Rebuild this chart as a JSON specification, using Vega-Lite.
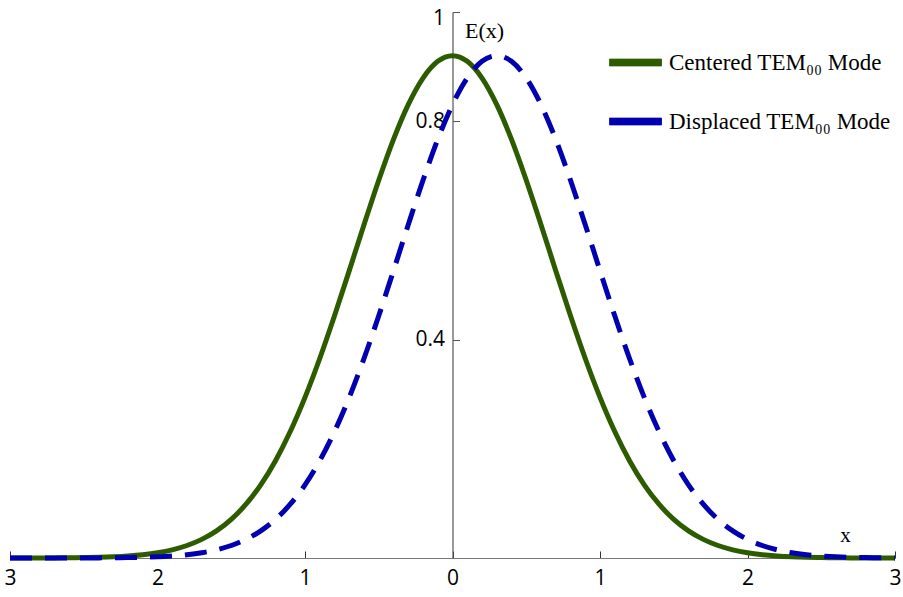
{
  "$schema": "https://vega.github.io/schema/vega-lite/v6.json",
  "width": 885,
  "height": 546,
  "autosize": "none",
  "padding": {"left": 10, "top": 12, "right": 8, "bottom": 39},
  "background": "white",
  "config": {"view": {"stroke": null}},
  "datasets": {
    "curves": [
      {"x": -3.0, "E": 0.0, "s": "Centered TEM₀₀ Mode"},
      {"x": -2.9, "E": 0.0001, "s": "Centered TEM₀₀ Mode"},
      {"x": -2.8, "E": 0.0001, "s": "Centered TEM₀₀ Mode"},
      {"x": -2.7, "E": 0.0002, "s": "Centered TEM₀₀ Mode"},
      {"x": -2.6, "E": 0.0004, "s": "Centered TEM₀₀ Mode"},
      {"x": -2.5, "E": 0.0007, "s": "Centered TEM₀₀ Mode"},
      {"x": -2.4, "E": 0.0013, "s": "Centered TEM₀₀ Mode"},
      {"x": -2.3, "E": 0.0022, "s": "Centered TEM₀₀ Mode"},
      {"x": -2.2, "E": 0.0037, "s": "Centered TEM₀₀ Mode"},
      {"x": -2.1, "E": 0.006, "s": "Centered TEM₀₀ Mode"},
      {"x": -2.0, "E": 0.0096, "s": "Centered TEM₀₀ Mode"},
      {"x": -1.9, "E": 0.015, "s": "Centered TEM₀₀ Mode"},
      {"x": -1.8, "E": 0.0229, "s": "Centered TEM₀₀ Mode"},
      {"x": -1.7, "E": 0.0341, "s": "Centered TEM₀₀ Mode"},
      {"x": -1.6, "E": 0.0497, "s": "Centered TEM₀₀ Mode"},
      {"x": -1.5, "E": 0.0708, "s": "Centered TEM₀₀ Mode"},
      {"x": -1.4, "E": 0.0985, "s": "Centered TEM₀₀ Mode"},
      {"x": -1.3, "E": 0.134, "s": "Centered TEM₀₀ Mode"},
      {"x": -1.2, "E": 0.1782, "s": "Centered TEM₀₀ Mode"},
      {"x": -1.1, "E": 0.2316, "s": "Centered TEM₀₀ Mode"},
      {"x": -1.0, "E": 0.2942, "s": "Centered TEM₀₀ Mode"},
      {"x": -0.9, "E": 0.3654, "s": "Centered TEM₀₀ Mode"},
      {"x": -0.8, "E": 0.4436, "s": "Centered TEM₀₀ Mode"},
      {"x": -0.7, "E": 0.5263, "s": "Centered TEM₀₀ Mode"},
      {"x": -0.6, "E": 0.6103, "s": "Centered TEM₀₀ Mode"},
      {"x": -0.5, "E": 0.6918, "s": "Centered TEM₀₀ Mode"},
      {"x": -0.4, "E": 0.7666, "s": "Centered TEM₀₀ Mode"},
      {"x": -0.3, "E": 0.8303, "s": "Centered TEM₀₀ Mode"},
      {"x": -0.2, "E": 0.879, "s": "Centered TEM₀₀ Mode"},
      {"x": -0.1, "E": 0.9096, "s": "Centered TEM₀₀ Mode"},
      {"x": 0.0, "E": 0.92, "s": "Centered TEM₀₀ Mode"},
      {"x": 0.1, "E": 0.9096, "s": "Centered TEM₀₀ Mode"},
      {"x": 0.2, "E": 0.879, "s": "Centered TEM₀₀ Mode"},
      {"x": 0.3, "E": 0.8303, "s": "Centered TEM₀₀ Mode"},
      {"x": 0.4, "E": 0.7666, "s": "Centered TEM₀₀ Mode"},
      {"x": 0.5, "E": 0.6918, "s": "Centered TEM₀₀ Mode"},
      {"x": 0.6, "E": 0.6103, "s": "Centered TEM₀₀ Mode"},
      {"x": 0.7, "E": 0.5263, "s": "Centered TEM₀₀ Mode"},
      {"x": 0.8, "E": 0.4436, "s": "Centered TEM₀₀ Mode"},
      {"x": 0.9, "E": 0.3654, "s": "Centered TEM₀₀ Mode"},
      {"x": 1.0, "E": 0.2942, "s": "Centered TEM₀₀ Mode"},
      {"x": 1.1, "E": 0.2316, "s": "Centered TEM₀₀ Mode"},
      {"x": 1.2, "E": 0.1782, "s": "Centered TEM₀₀ Mode"},
      {"x": 1.3, "E": 0.134, "s": "Centered TEM₀₀ Mode"},
      {"x": 1.4, "E": 0.0985, "s": "Centered TEM₀₀ Mode"},
      {"x": 1.5, "E": 0.0708, "s": "Centered TEM₀₀ Mode"},
      {"x": 1.6, "E": 0.0497, "s": "Centered TEM₀₀ Mode"},
      {"x": 1.7, "E": 0.0341, "s": "Centered TEM₀₀ Mode"},
      {"x": 1.8, "E": 0.0229, "s": "Centered TEM₀₀ Mode"},
      {"x": 1.9, "E": 0.015, "s": "Centered TEM₀₀ Mode"},
      {"x": 2.0, "E": 0.0096, "s": "Centered TEM₀₀ Mode"},
      {"x": 2.1, "E": 0.006, "s": "Centered TEM₀₀ Mode"},
      {"x": 2.2, "E": 0.0037, "s": "Centered TEM₀₀ Mode"},
      {"x": 2.3, "E": 0.0022, "s": "Centered TEM₀₀ Mode"},
      {"x": 2.4, "E": 0.0013, "s": "Centered TEM₀₀ Mode"},
      {"x": 2.5, "E": 0.0007, "s": "Centered TEM₀₀ Mode"},
      {"x": 2.6, "E": 0.0004, "s": "Centered TEM₀₀ Mode"},
      {"x": 2.7, "E": 0.0002, "s": "Centered TEM₀₀ Mode"},
      {"x": 2.8, "E": 0.0001, "s": "Centered TEM₀₀ Mode"},
      {"x": 2.9, "E": 0.0001, "s": "Centered TEM₀₀ Mode"},
      {"x": 3.0, "E": 0.0, "s": "Centered TEM₀₀ Mode"},
      {"x": -3.0, "E": 0.0, "s": "Displaced TEM₀₀ Mode"},
      {"x": -2.9, "E": 0.0, "s": "Displaced TEM₀₀ Mode"},
      {"x": -2.8, "E": 0.0, "s": "Displaced TEM₀₀ Mode"},
      {"x": -2.7, "E": 0.0, "s": "Displaced TEM₀₀ Mode"},
      {"x": -2.6, "E": 0.0001, "s": "Displaced TEM₀₀ Mode"},
      {"x": -2.5, "E": 0.0001, "s": "Displaced TEM₀₀ Mode"},
      {"x": -2.4, "E": 0.0002, "s": "Displaced TEM₀₀ Mode"},
      {"x": -2.3, "E": 0.0004, "s": "Displaced TEM₀₀ Mode"},
      {"x": -2.2, "E": 0.0007, "s": "Displaced TEM₀₀ Mode"},
      {"x": -2.1, "E": 0.0013, "s": "Displaced TEM₀₀ Mode"},
      {"x": -2.0, "E": 0.0022, "s": "Displaced TEM₀₀ Mode"},
      {"x": -1.9, "E": 0.0037, "s": "Displaced TEM₀₀ Mode"},
      {"x": -1.8, "E": 0.006, "s": "Displaced TEM₀₀ Mode"},
      {"x": -1.7, "E": 0.0096, "s": "Displaced TEM₀₀ Mode"},
      {"x": -1.6, "E": 0.015, "s": "Displaced TEM₀₀ Mode"},
      {"x": -1.5, "E": 0.0229, "s": "Displaced TEM₀₀ Mode"},
      {"x": -1.4, "E": 0.0341, "s": "Displaced TEM₀₀ Mode"},
      {"x": -1.3, "E": 0.0497, "s": "Displaced TEM₀₀ Mode"},
      {"x": -1.2, "E": 0.0708, "s": "Displaced TEM₀₀ Mode"},
      {"x": -1.1, "E": 0.0985, "s": "Displaced TEM₀₀ Mode"},
      {"x": -1.0, "E": 0.134, "s": "Displaced TEM₀₀ Mode"},
      {"x": -0.9, "E": 0.1782, "s": "Displaced TEM₀₀ Mode"},
      {"x": -0.8, "E": 0.2316, "s": "Displaced TEM₀₀ Mode"},
      {"x": -0.7, "E": 0.2942, "s": "Displaced TEM₀₀ Mode"},
      {"x": -0.6, "E": 0.3654, "s": "Displaced TEM₀₀ Mode"},
      {"x": -0.5, "E": 0.4436, "s": "Displaced TEM₀₀ Mode"},
      {"x": -0.4, "E": 0.5263, "s": "Displaced TEM₀₀ Mode"},
      {"x": -0.3, "E": 0.6103, "s": "Displaced TEM₀₀ Mode"},
      {"x": -0.2, "E": 0.6918, "s": "Displaced TEM₀₀ Mode"},
      {"x": -0.1, "E": 0.7666, "s": "Displaced TEM₀₀ Mode"},
      {"x": 0.0, "E": 0.8303, "s": "Displaced TEM₀₀ Mode"},
      {"x": 0.1, "E": 0.879, "s": "Displaced TEM₀₀ Mode"},
      {"x": 0.2, "E": 0.9096, "s": "Displaced TEM₀₀ Mode"},
      {"x": 0.3, "E": 0.92, "s": "Displaced TEM₀₀ Mode"},
      {"x": 0.4, "E": 0.9096, "s": "Displaced TEM₀₀ Mode"},
      {"x": 0.5, "E": 0.879, "s": "Displaced TEM₀₀ Mode"},
      {"x": 0.6, "E": 0.8303, "s": "Displaced TEM₀₀ Mode"},
      {"x": 0.7, "E": 0.7666, "s": "Displaced TEM₀₀ Mode"},
      {"x": 0.8, "E": 0.6918, "s": "Displaced TEM₀₀ Mode"},
      {"x": 0.9, "E": 0.6103, "s": "Displaced TEM₀₀ Mode"},
      {"x": 1.0, "E": 0.5263, "s": "Displaced TEM₀₀ Mode"},
      {"x": 1.1, "E": 0.4436, "s": "Displaced TEM₀₀ Mode"},
      {"x": 1.2, "E": 0.3654, "s": "Displaced TEM₀₀ Mode"},
      {"x": 1.3, "E": 0.2942, "s": "Displaced TEM₀₀ Mode"},
      {"x": 1.4, "E": 0.2316, "s": "Displaced TEM₀₀ Mode"},
      {"x": 1.5, "E": 0.1782, "s": "Displaced TEM₀₀ Mode"},
      {"x": 1.6, "E": 0.134, "s": "Displaced TEM₀₀ Mode"},
      {"x": 1.7, "E": 0.0985, "s": "Displaced TEM₀₀ Mode"},
      {"x": 1.8, "E": 0.0708, "s": "Displaced TEM₀₀ Mode"},
      {"x": 1.9, "E": 0.0497, "s": "Displaced TEM₀₀ Mode"},
      {"x": 2.0, "E": 0.0341, "s": "Displaced TEM₀₀ Mode"},
      {"x": 2.1, "E": 0.0229, "s": "Displaced TEM₀₀ Mode"},
      {"x": 2.2, "E": 0.015, "s": "Displaced TEM₀₀ Mode"},
      {"x": 2.3, "E": 0.0096, "s": "Displaced TEM₀₀ Mode"},
      {"x": 2.4, "E": 0.006, "s": "Displaced TEM₀₀ Mode"},
      {"x": 2.5, "E": 0.0037, "s": "Displaced TEM₀₀ Mode"},
      {"x": 2.6, "E": 0.0022, "s": "Displaced TEM₀₀ Mode"},
      {"x": 2.7, "E": 0.0013, "s": "Displaced TEM₀₀ Mode"},
      {"x": 2.8, "E": 0.0007, "s": "Displaced TEM₀₀ Mode"},
      {"x": 2.9, "E": 0.0004, "s": "Displaced TEM₀₀ Mode"},
      {"x": 3.0, "E": 0.0002, "s": "Displaced TEM₀₀ Mode"}
    ]
  },
  "data": {"name": "curves"},
  "encoding": {
    "x": {
      "field": "x",
      "type": "quantitative",
      "scale": {"domain": [-3, 3], "nice": false, "zero": false},
      "axis": {
        "values": [-3, -2, -1, 0, 1, 2, 3],
        "labelExpr": "'' + abs(datum.value)",
        "labelFont": "Open Sans",
        "labelFontSize": 21,
        "labelColor": "#000",
        "labelPadding": 16,
        "labelFlush": false,
        "labelOverlap": false,
        "tickSize": -7,
        "tickColor": "#333",
        "tickWidth": 1,
        "domainColor": "#777",
        "domainWidth": 1.2,
        "grid": false,
        "title": "x",
        "titleFont": "Liberation Serif",
        "titleFontSize": 21,
        "titleFontWeight": "normal",
        "titleColor": "#000",
        "titleAlign": "center",
        "titleBaseline": "middle",
        "titleX": 835,
        "titleY": -23
      }
    },
    "y": {
      "field": "E",
      "type": "quantitative",
      "scale": {"domain": [0, 1], "nice": false},
      "axis": {
        "values": [0.4, 0.8, 1],
        "format": ".1~f",
        "offset": -442.5,
        "labelFont": "Open Sans",
        "labelFontSize": 21,
        "labelColor": "#000",
        "labelPadding": 15,
        "labelOffset": {"condition": {"test": "datum.value == 1", "value": 6}, "value": 0},
        "tickSize": -7,
        "tickColor": "#555",
        "domainColor": "#555",
        "domainWidth": 1.2,
        "grid": false,
        "title": "E(x)",
        "titleFont": "Liberation Serif",
        "titleFontSize": 22,
        "titleFontWeight": "normal",
        "titleColor": "#000",
        "titleAngle": 0,
        "titleAlign": "left",
        "titleBaseline": "middle",
        "titleX": 12,
        "titleY": 18
      }
    },
    "color": {
      "field": "s",
      "type": "nominal",
      "scale": {
        "domain": ["Centered TEM₀₀ Mode", "Displaced TEM₀₀ Mode"],
        "range": ["#2d5c00", "#0000b0"]
      },
      "legend": {
        "title": null,
        "orient": "none",
        "legendX": 599,
        "legendY": 24,
        "padding": 0,
        "symbolType": "M-1,-0.13H1V0.13H-1Z",
        "symbolSize": 2700,
        "symbolStrokeWidth": 1,
        "symbolDash": [1, 0],
        "rowPadding": 20,
        "labelOffset": 7,
        "labelFont": "Liberation Serif",
        "labelFontSize": 23,
        "labelColor": "#000",
        "labelLimit": 400,
        "encode": {
          "symbols": {
            "update": {
              "fill": {"scale": "color", "field": "value"},
              "stroke": {"value": "#888"},
              "strokeWidth": {"value": 1},
              "strokeDash": {"value": [1, 0]},
              "opacity": {"value": 1}
            }
          }
        }
      }
    }
  },
  "layer": [
    {
      "transform": [{"filter": "datum.s === 'Centered TEM₀₀ Mode'"}],
      "mark": {"type": "line", "strokeWidth": 5, "interpolate": "monotone"}
    },
    {
      "transform": [{"filter": "datum.s === 'Displaced TEM₀₀ Mode'"}],
      "mark": {"type": "line", "strokeWidth": 5, "interpolate": "monotone", "strokeDash": [22, 13]}
    }
  ]
}
